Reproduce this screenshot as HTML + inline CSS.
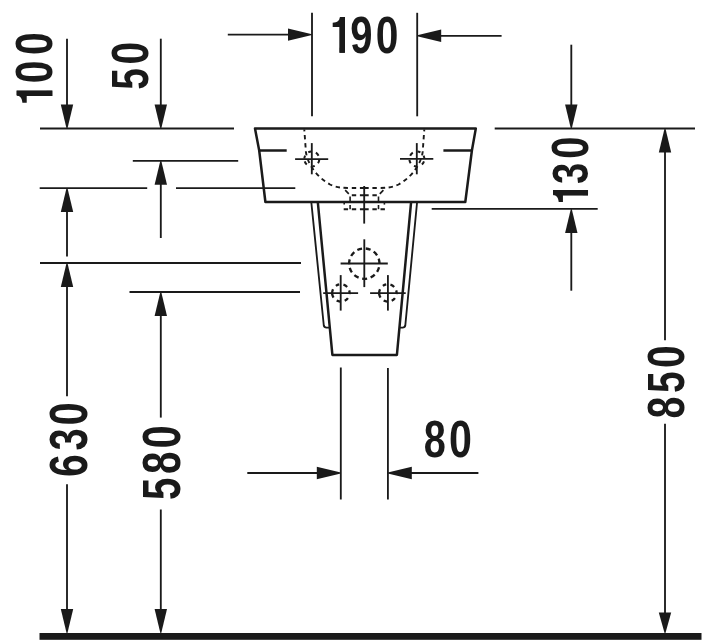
<!DOCTYPE html>
<html><head><meta charset="utf-8"><style>
html,body{margin:0;padding:0;background:#fff;}
svg{display:block;will-change:transform;}
.t{font-family:"Liberation Sans",sans-serif;font-weight:bold;stroke:none;fill:#1a1a1a;}
</style></head><body>
<svg width="709" height="642" viewBox="0 0 709 642">
<defs><clipPath id="c1_0" clipPathUnits="userSpaceOnUse"><rect x="490" y="-1397" width="257" height="1397"/></clipPath><clipPath id="c1_1" clipPathUnits="userSpaceOnUse"><rect x="490" y="-1397" width="257" height="1397"/></clipPath><clipPath id="c1_2" clipPathUnits="userSpaceOnUse"><rect x="490" y="-1397" width="257" height="1397"/></clipPath></defs>
<g stroke="#1a1a1a" fill="none" stroke-linecap="butt" stroke-linejoin="round">
<rect x="39.5" y="633" width="662" height="6.8" fill="#1a1a1a" stroke="none"/>
<line x1="40" y1="128.5" x2="234" y2="128.5" stroke-width="1.85"/>
<line x1="67" y1="38.7" x2="67" y2="115" stroke-width="1.85"/>
<polygon points="66.55,128.50 67.45,128.50 73.20,104.50 60.80,104.50" fill="#1a1a1a" stroke="none"/>
<line x1="160.8" y1="38.7" x2="160.8" y2="115" stroke-width="1.85"/>
<polygon points="160.35,128.50 161.25,128.50 167.00,104.50 154.60,104.50" fill="#1a1a1a" stroke="none"/>
<line x1="132.8" y1="160.8" x2="238.2" y2="160.8" stroke-width="1.85"/>
<polygon points="160.35,160.80 161.25,160.80 167.00,184.80 154.60,184.80" fill="#1a1a1a" stroke="none"/>
<line x1="160.8" y1="175" x2="160.8" y2="238" stroke-width="1.85"/>
<line x1="39.7" y1="188.1" x2="147.2" y2="188.1" stroke-width="1.85"/>
<line x1="176" y1="188.1" x2="295.3" y2="188.1" stroke-width="1.85"/>
<polygon points="66.55,188.10 67.45,188.10 73.20,212.10 60.80,212.10" fill="#1a1a1a" stroke="none"/>
<line x1="67" y1="200" x2="67" y2="256.4" stroke-width="1.85"/>
<line x1="40" y1="263.0" x2="301" y2="263.0" stroke-width="1.85"/>
<polygon points="66.55,263.00 67.45,263.00 73.20,287.00 60.80,287.00" fill="#1a1a1a" stroke="none"/>
<line x1="67" y1="275" x2="67" y2="396.3" stroke-width="1.85"/>
<line x1="67" y1="484.3" x2="67" y2="620" stroke-width="1.85"/>
<polygon points="66.55,633.00 67.45,633.00 73.20,609.00 60.80,609.00" fill="#1a1a1a" stroke="none"/>
<line x1="129.5" y1="292.0" x2="300" y2="292.0" stroke-width="1.85"/>
<polygon points="160.35,292.00 161.25,292.00 167.00,316.00 154.60,316.00" fill="#1a1a1a" stroke="none"/>
<line x1="160.8" y1="305" x2="160.8" y2="417.6" stroke-width="1.85"/>
<line x1="160.8" y1="509.5" x2="160.8" y2="620" stroke-width="1.85"/>
<polygon points="160.35,633.00 161.25,633.00 167.00,609.00 154.60,609.00" fill="#1a1a1a" stroke="none"/>
<line x1="227.8" y1="34.6" x2="300" y2="34.6" stroke-width="1.85"/>
<polygon points="312.00,34.15 312.00,35.05 288.00,40.80 288.00,28.40" fill="#1a1a1a" stroke="none"/>
<line x1="430" y1="35.8" x2="501.6" y2="35.8" stroke-width="1.85"/>
<polygon points="417.20,35.35 417.20,36.25 441.20,42.00 441.20,29.60" fill="#1a1a1a" stroke="none"/>
<line x1="312" y1="12.8" x2="312" y2="116.3" stroke-width="1.85"/>
<line x1="417.2" y1="12.8" x2="417.2" y2="116.3" stroke-width="1.85"/>
<line x1="494.7" y1="128.5" x2="695" y2="128.5" stroke-width="1.85"/>
<line x1="571.3" y1="44.7" x2="571.3" y2="115" stroke-width="1.85"/>
<polygon points="570.85,128.50 571.75,128.50 577.50,104.50 565.10,104.50" fill="#1a1a1a" stroke="none"/>
<line x1="431.7" y1="208.9" x2="597.7" y2="208.9" stroke-width="1.85"/>
<polygon points="570.85,208.90 571.75,208.90 577.50,232.90 565.10,232.90" fill="#1a1a1a" stroke="none"/>
<line x1="571.3" y1="220" x2="571.3" y2="290.7" stroke-width="1.85"/>
<polygon points="664.55,128.50 665.45,128.50 671.20,152.50 658.80,152.50" fill="#1a1a1a" stroke="none"/>
<line x1="665" y1="140" x2="665" y2="340.2" stroke-width="1.85"/>
<line x1="665" y1="423.7" x2="665" y2="620" stroke-width="1.85"/>
<polygon points="664.55,633.00 665.45,633.00 671.20,612.50 658.80,612.50" fill="#1a1a1a" stroke="none"/>
<line x1="340.8" y1="367.5" x2="340.8" y2="499.5" stroke-width="1.85"/>
<line x1="387.9" y1="368.0" x2="387.9" y2="499.5" stroke-width="1.85"/>
<line x1="247.3" y1="473" x2="330" y2="473" stroke-width="1.85"/>
<polygon points="340.80,472.55 340.80,473.45 316.80,479.20 316.80,466.80" fill="#1a1a1a" stroke="none"/>
<line x1="400" y1="473" x2="478.4" y2="473" stroke-width="1.85"/>
<polygon points="387.80,472.55 387.80,473.45 411.80,479.20 411.80,466.80" fill="#1a1a1a" stroke="none"/>
<polygon points="255,128.6 475.8,128.6 471.9,150.5 465.3,202 265.4,202 259.2,150.5" stroke-width="2.5" fill="none"/>
<line x1="259.2" y1="150.5" x2="286.7" y2="150.5" stroke-width="2.5"/>
<line x1="443.4" y1="150.5" x2="471.9" y2="150.5" stroke-width="2.5"/>
<polyline points="317.8,202 332.4,355 396.9,355 411.1,202" stroke-width="2.5" fill="none"/>
<path d="M311.4,203 L323.8,325.5 Q324.2,327.5 326.5,327.6 L329.6,327.6" stroke-width="1.85" fill="none"/>
<path d="M417,203 L405.3,325.5 Q404.9,327.5 402.6,327.6 L399.5,327.6" stroke-width="1.85" fill="none"/>
<line x1="295.1" y1="159.1" x2="328.2" y2="159.1" stroke-width="1.85"/>
<line x1="311.8" y1="143.1" x2="311.8" y2="174.3" stroke-width="1.85"/>
<line x1="400" y1="158.9" x2="433.3" y2="158.9" stroke-width="1.85"/>
<line x1="416.8" y1="143.1" x2="416.8" y2="174.3" stroke-width="1.85"/>
<line x1="340.6" y1="263.5" x2="387.8" y2="263.5" stroke-width="1.85"/>
<line x1="364.3" y1="239.3" x2="364.3" y2="287.1" stroke-width="1.85"/>
<line x1="323.2" y1="293.1" x2="358.1" y2="293.1" stroke-width="1.85"/>
<line x1="340.7" y1="275.1" x2="340.7" y2="310.6" stroke-width="1.85"/>
<line x1="370.1" y1="293.1" x2="405.7" y2="293.1" stroke-width="1.85"/>
<line x1="387.9" y1="275.1" x2="387.9" y2="310.6" stroke-width="1.85"/>
<line x1="364.2" y1="186" x2="364.2" y2="223.6" stroke-width="1.85"/>
<path d="M319.26,159.78A7.5,7.5 0 0 1 318.02,163.19M314.73,165.90A7.5,7.5 0 0 1 312.32,166.48M306.78,164.57A7.5,7.5 0 0 1 304.71,161.44M304.31,158.61A7.5,7.5 0 0 1 305.12,155.60M308.28,152.38A7.5,7.5 0 0 1 311.28,151.52M315.88,152.71A7.5,7.5 0 0 1 318.54,155.71" stroke-width="2.0" fill="none"/>
<path d="M410.68,163.19A7.5,7.5 0 0 1 409.44,159.78M416.38,166.48A7.5,7.5 0 0 1 413.97,165.90M423.99,161.44A7.5,7.5 0 0 1 421.92,164.57M423.58,155.60A7.5,7.5 0 0 1 424.39,158.61M417.42,151.52A7.5,7.5 0 0 1 420.42,152.38M410.16,155.71A7.5,7.5 0 0 1 412.82,152.71" stroke-width="2.0" fill="none"/>
<path d="M379.05,267.25A15.2,15.2 0 0 1 377.09,271.81M374.74,274.64A15.2,15.2 0 0 1 370.63,277.42M367.12,278.54A15.2,15.2 0 0 1 362.16,278.65M358.61,277.69A15.2,15.2 0 0 1 354.37,275.11M351.89,272.38A15.2,15.2 0 0 1 349.73,267.92M349.12,264.29A15.2,15.2 0 0 1 349.70,259.36M351.15,255.98A15.2,15.2 0 0 1 354.31,252.15M357.35,250.08A15.2,15.2 0 0 1 362.08,248.56M365.76,248.47A15.2,15.2 0 0 1 370.56,249.75M373.70,251.65A15.2,15.2 0 0 1 377.05,255.32M378.66,258.63A15.2,15.2 0 0 1 379.50,263.52" stroke-width="2.35" fill="none"/>
<path d="M347.94,298.11A8.7,8.7 0 0 1 344.71,300.82M340.14,301.67A8.7,8.7 0 0 1 336.68,300.61M333.52,297.61A8.7,8.7 0 0 1 333.02,289.32M335.91,285.87A8.7,8.7 0 0 1 339.24,284.46M343.44,284.68A8.7,8.7 0 0 1 347.16,286.96M349.22,290.46A8.7,8.7 0 0 1 349.54,294.06" stroke-width="2.3" fill="none"/>
<path d="M394.94,298.11A8.7,8.7 0 0 1 391.71,300.82M387.14,301.67A8.7,8.7 0 0 1 383.68,300.61M380.52,297.61A8.7,8.7 0 0 1 380.02,289.32M382.91,285.87A8.7,8.7 0 0 1 386.24,284.46M390.44,284.68A8.7,8.7 0 0 1 394.16,286.96M396.22,290.46A8.7,8.7 0 0 1 396.54,294.06" stroke-width="2.3" fill="none"/>
<path d="M364.3,188 L350,188 C342,188 336,187.5 330,184.5 C315,176 307,162 305.9,151.6 L304.3,129.5" stroke-width="1.9" fill="none" stroke-dasharray="4.4 3.7"/>
<path d="M364.3,188 L378.6,188 C386.6,188 392.6,187.5 398.6,184.5 C413.6,176 421.6,162 422.7,151.6 L424.3,129.5" stroke-width="1.9" fill="none" stroke-dasharray="4.4 3.7"/>
<line x1="345.2" y1="190.2" x2="348.8" y2="193.8" stroke-width="1.7"/>
<line x1="383.4" y1="190.2" x2="379.8" y2="193.8" stroke-width="1.7"/>
<path d="M364.3,195.3 L350.1,195.3 M364.3,195.3 L378.5,195.3" stroke-width="1.9" fill="none" stroke-dasharray="4.4 3.7"/>
<path d="M364.3,209.2 L343.5,209.2 M364.3,209.2 L385.1,209.2" stroke-width="1.9" fill="none" stroke-dasharray="4.4 3.7"/>
<line x1="350.1" y1="196.5" x2="350.1" y2="202" stroke-width="1.6"/>
<line x1="378.5" y1="196.5" x2="378.5" y2="202" stroke-width="1.6"/>
<line x1="350.1" y1="205" x2="350.1" y2="209.2" stroke-width="1.6"/>
<line x1="378.5" y1="205" x2="378.5" y2="209.2" stroke-width="1.6"/>
<line x1="344.2" y1="202" x2="344.2" y2="204.6" stroke-width="1.6"/>
<line x1="384.4" y1="202" x2="384.4" y2="204.6" stroke-width="1.6"/>
<text transform="translate(329.89,52.69) scale(0.019897,0.025379)" class="t" font-size="2048" clip-path="url(#c1_0)">1</text>
<path transform="translate(329.89,52.69) scale(0.01990,-0.02538)" d="M478 0H759V1409H516C500 1290 380 1190 141 1180V1010H478Z" fill="#1a1a1a" stroke="none"/>
<text transform="translate(350.13,52.69) scale(0.019536,0.025379)" class="t" font-size="2048">9</text>
<text transform="translate(375.81,52.69) scale(0.019897,0.025379)" class="t" font-size="2048">0</text>
<text transform="translate(423.64,457.39) scale(0.019378,0.025655)" class="t" font-size="2048">8</text>
<text transform="translate(449.08,457.39) scale(0.020114,0.025655)" class="t" font-size="2048">0</text>
<text transform="translate(52.49,105.62) rotate(-90) scale(0.020006,0.025517)" class="t" font-size="2048" clip-path="url(#c1_1)">1</text>
<path transform="translate(52.49,105.62) rotate(-90) scale(0.02001,-0.02552)" d="M478 0H759V1409H516C500 1290 380 1190 141 1180V1010H478Z" fill="#1a1a1a" stroke="none"/>
<text transform="translate(52.49,83.32) rotate(-90) scale(0.020006,0.025517)" class="t" font-size="2048">0</text>
<text transform="translate(52.49,55.11) rotate(-90) scale(0.020006,0.025517)" class="t" font-size="2048">0</text>
<text transform="translate(148.39,89.70) rotate(-90) scale(0.019070,0.025448)" class="t" font-size="2048">5</text>
<text transform="translate(148.39,64.45) rotate(-90) scale(0.019951,0.025448)" class="t" font-size="2048">0</text>
<text transform="translate(588.03,204.75) rotate(-90) scale(0.019479,0.024845)" class="t" font-size="2048" clip-path="url(#c1_2)">1</text>
<path transform="translate(588.03,204.75) rotate(-90) scale(0.01948,-0.02485)" d="M478 0H759V1409H516C500 1290 380 1190 141 1180V1010H478Z" fill="#1a1a1a" stroke="none"/>
<text transform="translate(588.03,183.88) rotate(-90) scale(0.018637,0.024845)" class="t" font-size="2048">3</text>
<text transform="translate(588.03,158.65) rotate(-90) scale(0.019479,0.024845)" class="t" font-size="2048">0</text>
<text transform="translate(683.99,418.45) rotate(-90) scale(0.019169,0.025379)" class="t" font-size="2048">8</text>
<text transform="translate(683.99,393.04) rotate(-90) scale(0.019019,0.025379)" class="t" font-size="2048">5</text>
<text transform="translate(683.99,368.09) rotate(-90) scale(0.019897,0.025379)" class="t" font-size="2048">0</text>
<text transform="translate(87.00,476.90) rotate(-90) scale(0.020013,0.025946)" class="t" font-size="2048">6</text>
<text transform="translate(87.00,450.52) rotate(-90) scale(0.019463,0.025946)" class="t" font-size="2048">3</text>
<text transform="translate(87.00,425.46) rotate(-90) scale(0.020342,0.025946)" class="t" font-size="2048">0</text>
<text transform="translate(180.08,499.93) rotate(-90) scale(0.019587,0.026138)" class="t" font-size="2048">5</text>
<text transform="translate(180.08,474.01) rotate(-90) scale(0.019742,0.026138)" class="t" font-size="2048">8</text>
<text transform="translate(180.08,448.42) rotate(-90) scale(0.020492,0.026138)" class="t" font-size="2048">0</text>
</g>
</svg>
</body></html>
